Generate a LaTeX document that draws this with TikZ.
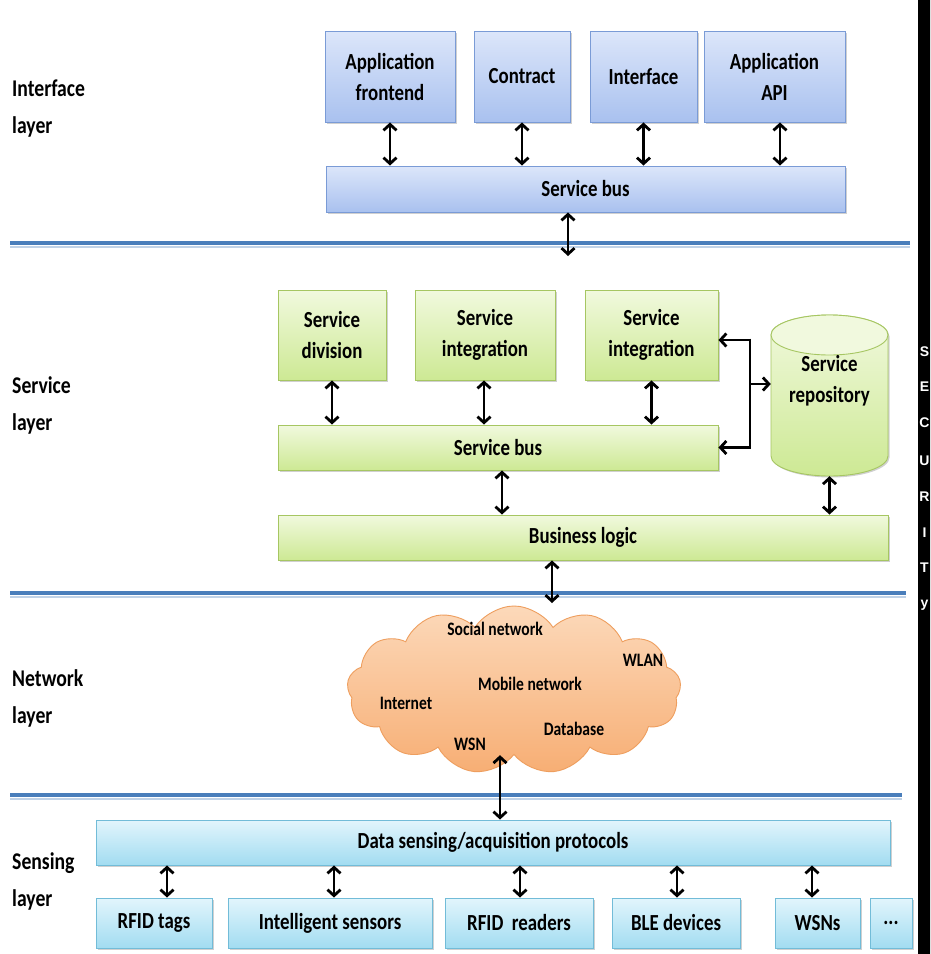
\documentclass[tikz,border=0pt]{standalone}
\usepackage{fontspec}
\setmainfont{Carlito}[FakeStretch=0.82]
\newfontfamily\secfont{Liberation Sans}
\usetikzlibrary{arrows.meta,shapes.symbols,shadows}
\definecolor{lineblue}{HTML}{4A7EBB}
\definecolor{btop}{HTML}{DCE6FA}\definecolor{bbot}{HTML}{A9C1EF}\definecolor{bline}{HTML}{7A9BD6}
\definecolor{gtop}{HTML}{F1F9DE}\definecolor{gbot}{HTML}{CDE994}\definecolor{gline}{HTML}{A6C662}
\definecolor{ctop}{HTML}{E2F5FC}\definecolor{cbot}{HTML}{A2DCF1}\definecolor{cline}{HTML}{72BCD8}
\definecolor{otop}{HTML}{FCD9BA}\definecolor{obot}{HTML}{F7AE74}\definecolor{oline}{HTML}{EE9E5E}
\tikzset{
  boxbase/.style={rectangle, inner sep=2pt, align=center, line width=0.9pt,
    font=\fontsize{23}{31}\selectfont\bfseries,
    drop shadow={shadow xshift=1.5pt, shadow yshift=-1.5pt, opacity=0.3, fill=black!60}},
  ibox/.style={boxbase, draw=bline, top color=btop, bottom color=bbot},
  gbox/.style={boxbase, draw=gline, top color=gtop, bottom color=gbot},
  cbox/.style={boxbase, draw=cline, top color=ctop, bottom color=cbot},
  lab/.style={anchor=west, align=left, inner sep=0pt, font=\fontsize{24}{37}\selectfont\bfseries},
  ctext/.style={inner sep=0pt, font=\fontsize{19}{22}\selectfont\bfseries},
  tipb/.tip={Straight Barb[length=6pt,width=13pt]},
  dar/.style={line width=2.8pt, {tipb}-{tipb}},
  sar/.style={line width=2.8pt, -{tipb}},
  sepline/.style={line width=4pt, lineblue},
  sepshade/.style={line width=2pt, lineblue!35},
}
\begin{document}
\begin{tikzpicture}[x=1pt,y=-1pt]
\clip (0,0) rectangle (930,954);
\useasboundingbox (0,0) rectangle (930,954);
\fill[white] (0,0) rectangle (930,954);

% separator lines
\draw[sepshade] (10,246.5) -- (910,246.5);
\draw[sepline] (10,243) -- (910,243);
\draw[sepshade] (10,596.5) -- (906,596.5);
\draw[sepline] (10,593) -- (906,593);
\draw[sepshade] (10,798.5) -- (902,798.5);
\draw[sepline] (10,795) -- (902,795);

% layer labels
\node[lab] (l1) at (12,109) {Interface\\layer};
\node[lab] (l2) at (12,405) {Service\\layer};
\node[lab] (l3) at (12,698) {Network\\layer};
\node[lab] (l4) at (12,881) {Sensing\\layer};

% interface layer
\node[ibox, minimum width=130, minimum height=91] (af) at (390,76.5) {Application\\frontend};
\node[ibox, minimum width=96, minimum height=91] (ct) at (522,76.5) {Contract};
\node[ibox, minimum width=107, minimum height=91] (itf) at (643.5,76.5) {Interface};
\node[ibox, minimum width=141, minimum height=91] (api) at (774.5,76.5) {Application\\API};
\node[ibox, minimum width=519, minimum height=46] (ibus) at (585.5,189) {Service bus};
\draw[dar] (af.south -| 390,0) -- (ibus.north -| 390,0);
\draw[dar] (ct.south) -- (ibus.north -| ct.south);
\draw[dar] (itf.south) -- (ibus.north -| itf.south);
\draw[dar] (api.south -| 780,0) -- (ibus.north -| 780,0);
\coordinate (e1) at (568,256);
\draw[dar] (ibus.south -| e1) -- (e1);

% service layer
\node[gbox, minimum width=108, minimum height=90] (sd) at (332,335) {Service\\division};
\node[gbox, minimum width=140, minimum height=90] (si1) at (485,335) {Service\\integration};
\node[gbox, minimum width=133, minimum height=90] (si2) at (651.5,335) {Service\\integration};
\node[gbox, minimum width=440, minimum height=45] (sbus) at (498,447.5) {Service bus};
\node[gbox, minimum width=610, minimum height=45] (bl) at (583,537.5) {Business logic};
% repository cylinder
\draw[line width=0.9pt, draw=gline, top color=gtop, bottom color=gbot,
  drop shadow={shadow xshift=1.5pt, shadow yshift=-1.5pt, opacity=0.3, fill=black!60}]
  (771,335) -- (771,456) arc[start angle=180, end angle=360, x radius=58.5pt, y radius=20pt]
  -- (888,335) arc[start angle=0, end angle=180, x radius=58.5pt, y radius=20pt] -- cycle;
\draw[line width=0.9pt, draw=gline, fill=gtop] (829.5,335) ellipse [x radius=58.5pt, y radius=20pt];
\node[minimum width=117, minimum height=161, inner sep=0pt] (repo) at (829.5,395.5) {};
\node[align=center, inner sep=0pt, font=\fontsize{23}{31}\selectfont\bfseries] (repot) at (829.5,381) {Service\\repository};

\draw[dar] (sd.south) -- (sbus.north -| sd.south);
\draw[dar] (si1.south -| 484,0) -- (sbus.north -| 484,0);
\draw[dar] (si2.south) -- (sbus.north -| si2.south);
\draw[dar] (sbus.south -| 502,0) -- (bl.north -| 502,0);
\draw[dar] (repo.south) -- (bl.north -| repo.south);
\coordinate (bt) at (750,340);
\coordinate (bb) at (750,447.5);
\coordinate (bm) at (750,384);
\draw[line width=2.8pt] ([yshift=1.4pt]bt) -- ([yshift=-1.4pt]bb);
\draw[sar] (bt) -- (si2.east |- bt);
\draw[sar] (bb) -- (sbus.east);
\draw[sar] (bm) -- (repo.west |- bm);
\coordinate (e2) at (552,603);
\draw[dar] (bl.south -| e2) -- (e2);

% network layer
\node[cloud, cloud puffs=13, cloud puff arc=115, aspect=2.1, minimum width=334, minimum height=168,
  inner sep=0pt, draw=oline, line width=0.9pt, top color=otop, bottom color=obot] (cl) at (514,690) {};
\node[ctext] (t1) at (495,629) {Social network};
\node[ctext] (t2) at (643,660) {WLAN};
\node[ctext] (t3) at (530,684) {Mobile network};
\node[ctext] (t4) at (406,703) {Internet};
\node[ctext] (t5) at (574,729) {Database};
\node[ctext] (t6) at (470,744) {WSN};

% sensing layer
\node[cbox, minimum width=794, minimum height=45] (ds) at (493,842.5) {Data sensing/acquisition protocols};
\node[cbox, minimum width=116, minimum height=50] (rt) at (154,923) {RFID tags};
\node[cbox, minimum width=204, minimum height=50] (is) at (330,923) {Intelligent sensors};
\node[cbox, minimum width=148, minimum height=50] (rr) at (519,923) {RFID\ \ readers};
\node[cbox, minimum width=128, minimum height=50] (ble) at (676,923) {BLE devices};
\node[cbox, minimum width=85, minimum height=50] (wsn) at (817.5,923) {WSNs};
\node[cbox, minimum width=42, minimum height=50] (dots) at (891,923) {...};
\draw[dar] (cl.south -| 500,0) -- (ds.north -| 500,0);
\draw[dar] (ds.south -| 167,0) -- (rt.north -| 167,0);
\draw[dar] (ds.south -| 334,0) -- (is.north -| 334,0);
\draw[dar] (ds.south -| 520,0) -- (rr.north -| 520,0);
\draw[dar] (ds.south -| 677,0) -- (ble.north -| 677,0);
\draw[dar] (ds.south -| 812,0) -- (wsn.north -| 812,0);

% security bar
\fill[black] (918,0) rectangle (935,954);
\foreach \ch/\yy [count=\i] in {S/352,E/387,C/423,U/461,R/497,I/533,T/568,y/605}{
  \node[inner sep=0pt, text=white, font=\secfont\fontsize{14}{16}\selectfont\bfseries] (sec\i) at (924.5,\yy) {\ch};
}
\end{tikzpicture}
\end{document}
